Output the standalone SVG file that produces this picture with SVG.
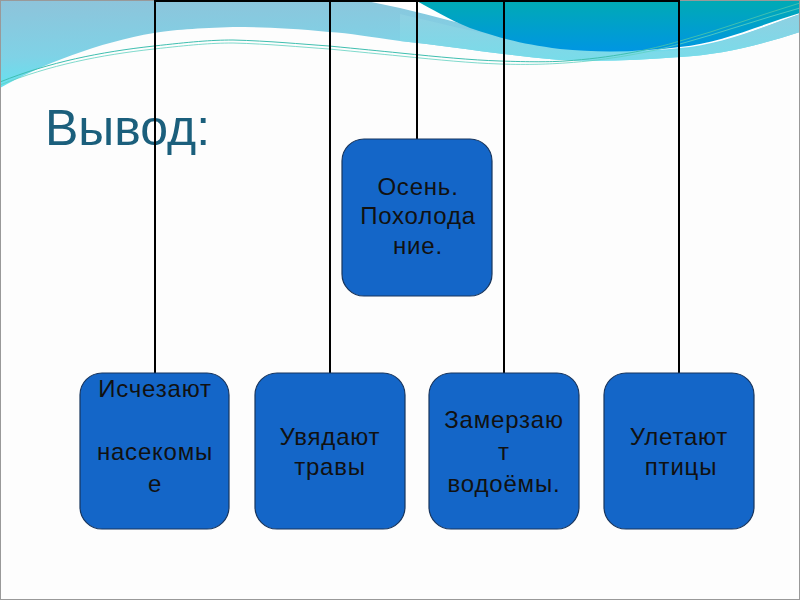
<svg xmlns="http://www.w3.org/2000/svg" width="800" height="600" viewBox="0 0 800 600">
<defs>
<linearGradient id="gLight" x1="0" y1="0" x2="0.3" y2="1">
<stop offset="0" stop-color="#8ec3da"/>
<stop offset="0.6" stop-color="#7fd2e6"/>
<stop offset="1" stop-color="#5fe6f2"/>
</linearGradient>
<linearGradient id="gDark" x1="0" y1="0" x2="0" y2="1">
<stop offset="0" stop-color="#00aab4"/>
<stop offset="1" stop-color="#0096e2"/>
</linearGradient>
<linearGradient id="gMid" x1="0" y1="0" x2="0" y2="1">
<stop offset="0" stop-color="#8fd0e2"/>
<stop offset="1" stop-color="#78dcea"/>
</linearGradient>
</defs>
<style>
.box{fill:#1466c8;stroke:#17355e;stroke-width:1.2}
.lbl{font-family:"Liberation Sans",Arial,sans-serif;font-size:24px;fill:#111;text-anchor:middle;letter-spacing:0.8px}
.conn{stroke:#000;stroke-width:2;fill:none}
</style>
<rect x="0" y="0" width="800" height="600" fill="#fdfdfd"/>
<path d="M0,0 L800,0 L800,32 C760,45 720,55 680,57 C640,60 600,62 560,60 C500,55 450,46 400,41 C370,37 350,33 329,32 C290,28 260,27 233,27 C200,28 170,30 154,33 C100,42 40,65 0,88 Z" fill="url(#gLight)"/>
<path d="M362,0 L800,0 L800,14 C760,28 720,45 680,48 C640,52 600,52 560,45 C500,35 450,20 400,8 Z" fill="#ffffff"/>
<path d="M400,14 C450,26 500,38 560,47 C600,53 640,54 680,50 C720,46 760,28 800,14 L800,32 C760,45 720,55 680,57 C640,60 600,62 560,60 C500,55 450,46 400,41 Z" fill="url(#gMid)"/>
<path d="M415,0 L800,0 L800,13 C760,25 720,43 680,47 C640,52 600,53 560,49 C520,44 500,38 470,28 C450,20 430,8 415,0 Z" fill="url(#gDark)"/>
<path d="M0,82 C50,62 100,52 154,46 C190,42 210,40 233,40 C270,41 300,44 329,46 C360,49 380,51 400,53 C440,57 470,60 500,61 C530,62 550,62 565,61 C610,58 650,50 680,41 C720,30 760,15 800,3" fill="none" stroke="#3fbfb0" stroke-width="1"/>
<path d="M0,85 C50,65 100,55 154,49 C190,45 210,43 233,43 C270,44 300,47 329,49 C360,52 380,54 400,56 C440,60 470,63 500,64 C530,65 550,64 565,63 C610,60 650,52 680,44 C720,33 760,19 800,8" fill="none" stroke="#5fd0c0" stroke-width="0.8"/>
<rect x="0.5" y="0.5" width="799" height="599" fill="none" stroke="#999" stroke-width="1"/>
<text x="45" y="145" font-family="Liberation Sans, Arial, sans-serif" font-size="50" fill="#1b5f7c">Вывод:</text>
<g id="connectors">
<line class="conn" x1="155" y1="1" x2="679" y2="1"/>
<line class="conn" x1="417" y1="0" x2="417" y2="139"/>
<line class="conn" x1="155" y1="0" x2="155" y2="373"/>
<line class="conn" x1="330" y1="0" x2="330" y2="373"/>
<line class="conn" x1="504" y1="0" x2="504" y2="373"/>
<line class="conn" x1="679" y1="0" x2="679" y2="373"/>
</g>
<g id="root">
<rect class="box" x="342" y="139" width="150" height="157" rx="22"/>
<text class="lbl" x="418" y="195">Осень.</text>
<text class="lbl" x="418" y="224">Похолода</text>
<text class="lbl" x="418" y="254">ние.</text>
</g>
<g id="n1">
<rect class="box" x="80" y="373" width="149" height="156" rx="22"/>
<text class="lbl" x="155" y="397">Исчезают</text>
<text class="lbl" x="155" y="460">насекомы</text>
<text class="lbl" x="155" y="492">е</text>
</g>
<g id="n2">
<rect class="box" x="255" y="373" width="150" height="156" rx="22"/>
<text class="lbl" x="330" y="445">Увядают</text>
<text class="lbl" x="330" y="475">травы</text>
</g>
<g id="n3">
<rect class="box" x="429" y="373" width="150" height="156" rx="22"/>
<text class="lbl" x="504" y="428">Замерзаю</text>
<text class="lbl" x="504" y="460">т</text>
<text class="lbl" x="504" y="492">водоёмы.</text>
</g>
<g id="n4">
<rect class="box" x="604" y="373" width="150" height="156" rx="22"/>
<text class="lbl" x="679" y="445">Улетают</text>
<text class="lbl" x="681" y="475">птицы</text>
</g>
</svg>
